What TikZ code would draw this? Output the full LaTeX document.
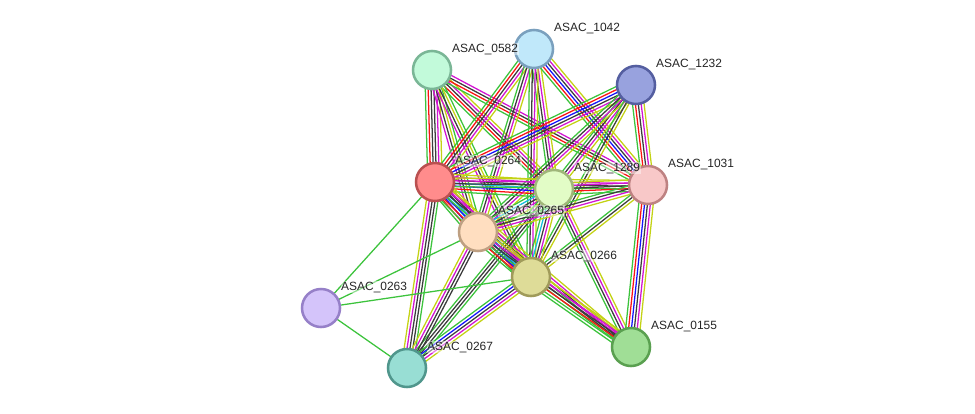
\documentclass[tikz,border=0pt]{standalone}
\usepackage{fontspec}
\usepackage{tikz}
\usetikzlibrary{calc,positioning}
\newfontfamily\lblfont{Liberation Sans}

\definecolor{sg}{RGB}{60,195,60}
\definecolor{sr}{RGB}{250,20,20}
\definecolor{sb}{RGB}{20,20,250}
\definecolor{sk}{RGB}{60,60,60}
\definecolor{sm}{RGB}{210,20,210}
\definecolor{sc}{RGB}{20,190,220}
\definecolor{sy}{RGB}{195,210,20}

\pgfdeclarelayer{bg}
\pgfsetlayers{bg,main}

\tikzset{
  prot/.style={circle,draw,line width=1.8pt,minimum size=0.95cm,inner sep=0pt},
  lbl/.style={font=\lblfont\fontsize{8.5}{10}\selectfont,inner sep=0.5pt,text=black!85,
    fill=white,fill opacity=0.45,text opacity=1}
}

\newcommand{\strlink}[3]{%
  \foreach \col [count=\k] in {#3}{\xdef\nlines{\k}}
  \foreach \col [count=\k] in {#3}{
    \pgfmathsetmacro{\off}{(\k-(\nlines+1)/2)*2.05}
    \draw[\col,line width=0.9pt] ($(#1.center)!\off pt!90:(#2.center)$) -- ($(#2.center)!\off pt!-90:(#1.center)$);
  }}

\begin{document}
\begin{tikzpicture}[x=0.025cm,y=-0.025cm]
    \useasboundingbox (0,0) rectangle (975,414);
    % proteins
    \node[prot,fill={rgb,255:red,192;green,232;blue,250},draw={rgb,255:red,122;green,160;blue,190}] (n1042) at (534,49) {};
    \node[prot,fill={rgb,255:red,194;green,250;blue,218},draw={rgb,255:red,122;green,182;blue,150}] (n0582) at (432,70) {};
    \node[prot,fill={rgb,255:red,152;green,162;blue,222},draw={rgb,255:red,84;green,94;blue,160}] (n1232) at (636,85) {};
    \node[prot,fill={rgb,255:red,255;green,140;blue,140},draw={rgb,255:red,186;green,80;blue,80}] (n0264) at (435,182) {};
    \node[prot,fill={rgb,255:red,226;green,252;blue,198},draw={rgb,255:red,160;green,182;blue,122}] (n1289) at (554,189) {};
    \node[prot,fill={rgb,255:red,248;green,200;blue,200},draw={rgb,255:red,190;green,130;blue,130}] (n1031) at (648,185) {};
    \node[prot,fill={rgb,255:red,255;green,222;blue,192},draw={rgb,255:red,190;green,160;blue,130}] (n0265) at (478,232) {};
    \node[prot,fill={rgb,255:red,222;green,220;blue,152},draw={rgb,255:red,160;green,155;blue,90}] (n0266) at (531,277) {};
    \node[prot,fill={rgb,255:red,212;green,196;blue,250},draw={rgb,255:red,150;green,128;blue,200}] (n0263) at (321,308) {};
    \node[prot,fill={rgb,255:red,152;green,222;blue,212},draw={rgb,255:red,80;green,150;blue,140}] (n0267) at (407,368) {};
    \node[prot,fill={rgb,255:red,160;green,222;blue,150},draw={rgb,255:red,90;green,160;blue,80}] (n0155) at (631,347) {};
    % names
    \node[lbl,above right=0pt and 3.5pt of n1042] (l1042) {ASAC\_1042};
    \node[lbl,above right=0pt and 3.5pt of n0582] (l0582) {ASAC\_0582};
    \node[lbl,above right=0pt and 3.5pt of n1232] (l1232) {ASAC\_1232};
    \node[lbl,above right=0pt and 3.5pt of n0264] (l0264) {ASAC\_0264};
    \node[lbl,above right=0pt and 3.5pt of n1289] (l1289) {ASAC\_1289};
    \node[lbl,above right=0pt and 3.5pt of n1031] (l1031) {ASAC\_1031};
    \node[lbl,above right=0pt and 3.5pt of n0265] (l0265) {ASAC\_0265};
    \node[lbl,above right=0pt and 3.5pt of n0266] (l0266) {ASAC\_0266};
    \node[lbl,above right=0pt and 3.5pt of n0263] (l0263) {ASAC\_0263};
    \node[lbl,above right=0pt and 3.5pt of n0267] (l0267) {ASAC\_0267};
    \node[lbl,above right=0pt and 3.5pt of n0155] (l0155) {ASAC\_0155};
    % evidence lines
    \begin{pgfonlayer}{bg}
    \strlink{n0582}{n0264}{sg,sr,sk,sk,sm,sy}
    \strlink{n0582}{n1289}{sg,sr,sk,sm,sy}
    \strlink{n0582}{n1031}{sg,sr,sk,sm}
    \strlink{n0582}{n0265}{sm,sk,sy,sg}
    \strlink{n0582}{n0266}{sm,sk,sy,sg}
    \strlink{n1042}{n0264}{sg,sr,sk,sm,sy}
    \strlink{n1042}{n1289}{sg,sk,sm,sy}
    \strlink{n1042}{n1031}{sg,sr,sb,sk,sm,sy}
    \strlink{n1042}{n0265}{sg,sk,sm,sy}
    \strlink{n1042}{n0266}{sg,sk,sm,sy}
    \strlink{n1232}{n0264}{sg,sr,sb,sk,sm,sy}
    \strlink{n1232}{n1289}{sg,sk,sm,sy}
    \strlink{n1232}{n1031}{sg,sr,sk,sm,sy}
    \strlink{n1232}{n0265}{sg,sk,sm,sy}
    \strlink{n1232}{n0266}{sg,sk,sy}
    \strlink{n0264}{n1289}{sg,sr,sb,sc,sk,sm,sy}
    \strlink{n0264}{n1031}{sg,sk,sm,sy}
    \strlink{n0264}{n0265}{sg,sr,sb,sc,sk,sm,sy}
    \strlink{n0264}{n0266}{sg,sr,sb,sc,sk,sm,sy}
    \strlink{n0264}{n0267}{sy,sm,sk,sk,sg}
    \strlink{n0264}{n0155}{sg,sk,sm,sy}
    \strlink{n1289}{n1031}{sg,sr,sk,sm,sy}
    \strlink{n1289}{n0265}{sg,sc,sk,sm,sy}
    \strlink{n1289}{n0266}{sg,sc,sk,sm,sy}
    \strlink{n1289}{n0267}{sg,sk,sk,sg}
    \strlink{n1289}{n0155}{sg,sk,sm,sy}
    \strlink{n1031}{n0265}{sg,sk,sm,sy}
    \strlink{n1031}{n0266}{sg,sk,sy}
    \strlink{n1031}{n0155}{sg,sr,sb,sk,sm,sy}
    \strlink{n0265}{n0266}{sg,sr,sb,sc,sk,sm,sy}
    \strlink{n0265}{n0267}{sy,sm,sk,sk}
    \strlink{n0265}{n0155}{sg,sk,sm,sy}
    \strlink{n0266}{n0267}{sg,sb,sk,sm,sy}
    \strlink{n0266}{n0155}{sg,sg,sr,sk,sm,sy}
    \strlink{n0263}{n0264}{sg}
    \strlink{n0263}{n0265}{sg}
    \strlink{n0263}{n0266}{sg}
    \strlink{n0263}{n0267}{sg}
    \end{pgfonlayer}
\end{tikzpicture}
\end{document}
